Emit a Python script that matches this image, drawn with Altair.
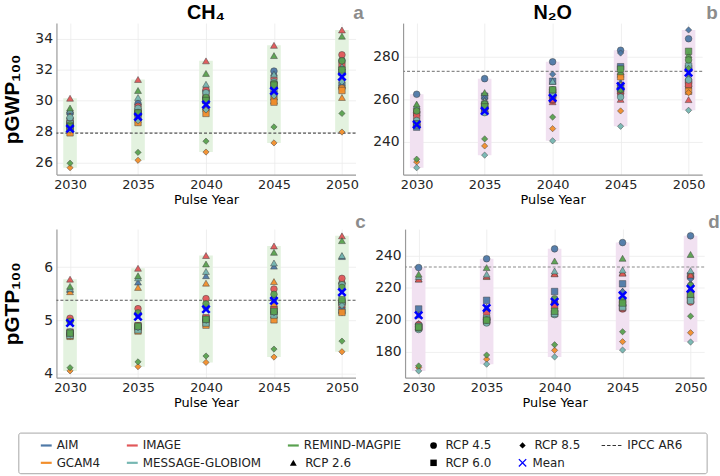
import altair as alt
import pandas as pd

YEARS = [2030, 2035, 2040, 2045, 2050]
MODELS = ["AIM", "GCAM4", "IMAGE", "MESSAGE-GLOBIOM", "REMIND-MAGPIE"]
MODEL_COLORS = ["#4e79a7", "#f28e2b", "#e15759", "#76b7b2", "#59a14f"]
RCPS = ["RCP 2.6", "RCP 4.5", "RCP 6.0", "RCP 8.5"]
RCP_SHAPES = ["triangle-up", "circle", "square", "diamond"]
RCP_SIZES = [48, 40, 44, 54]

# ---------- (a) CH4 pGWP100 ----------
CH4_GWP_AIM = {"RCP 2.6": [29.3, 29.9, 30.8, 31.8, 32.0], "RCP 4.5": [29.2, 29.8, 30.6, 31.9, 32.6],
               "RCP 6.0": [28.7, 29.3, 30.1, 30.4, 31.0], "RCP 8.5": [28.0, 28.6, 29.3, 30.07, 30.96]}
CH4_GWP_GCAM4 = {"RCP 2.6": [29.02, 29.3, 29.6, 30.0, 30.2], "RCP 4.5": [28.2, 28.8, 29.45, 30.1, 30.8],
                 "RCP 6.0": [27.92, 28.58, 29.17, 29.9, 30.65], "RCP 8.5": [25.67, 26.15, 26.68, 27.27, 27.97]}
CH4_GWP_IMAGE = {"RCP 2.6": [30.15, 31.36, 32.56, 33.56, 34.55], "RCP 4.5": [28.64, 29.63, 30.7, 31.4, 32.95],
                 "RCP 6.0": [28.4, 29.2, 30.3, 31.0, 32.3]}
CH4_GWP_MESSAGE = {"RCP 2.6": [29.39, 30.2, 31.05, 31.7, 32.2], "RCP 4.5": [28.9, 29.5, 30.5, 31.2, 32.0],
                   "RCP 6.0": [28.5, 29.1, 30.0, 30.8, 31.8], "RCP 8.5": [28.1, 28.7, 29.4, 30.3, 31.2]}
CH4_GWP_REMIND = {"RCP 2.6": [29.52, 30.65, 31.75, 32.9, 34.15], "RCP 4.5": [28.43, 29.23, 30.2, 31.1, 32.56],
                  "RCP 6.0": [28.3, 29.2, 30.0, 31.0, 31.97], "RCP 8.5": [25.96, 26.66, 27.38, 28.3, 29.17]}
CH4_GWP_MEAN = [28.19, 28.95, 29.74, 30.62, 31.53]

# ---------- (b) N2O pGWP100 ----------
N2O_GWP_AIM = {"RCP 2.6": [253.5, 256.5, 262.0, 268.0, 270.5], "RCP 4.5": [262.3, 269.6, 277.5, 282.9, 288.3],
               "RCP 6.0": [246.9, 261.4, 268.4, 275.2, 274.4], "RCP 8.5": [252.6, 260.4, 271.7, 281.6, 292.4]}
N2O_GWP_GCAM4 = {"RCP 2.6": [256.4, 255.5, 263.3, 271.7, 268.5], "RCP 4.5": [254.0, 254.0, 262.0, 266.5, 266.0],
                 "RCP 6.0": [248.5, 257.0, 264.0, 270.5, 263.7], "RCP 8.5": [230.6, 238.1, 246.2, 254.5, 263.0]}
N2O_GWP_IMAGE = {"RCP 2.6": [255.3, 259.3, 258.8, 259.9, 259.8], "RCP 4.5": [253.7, 256.4, 259.5, 262.5, 268.0],
                 "RCP 6.0": [252.0, 255.0, 260.0, 264.0, 267.0]}
N2O_GWP_MESSAGE = {"RCP 2.6": [257.0, 259.3, 268.4, 266.8, 270.1], "RCP 4.5": [250.0, 253.7, 261.5, 261.0, 269.0],
                   "RCP 6.0": [248.0, 257.7, 262.5, 265.0, 275.5], "RCP 8.5": [227.9, 233.8, 240.5, 247.3, 254.8]}
N2O_GWP_REMIND = {"RCP 2.6": [257.7, 263.1, 264.4, 272.8, 280.8], "RCP 4.5": [254.5, 257.7, 264.4, 264.4, 278.4],
                  "RCP 6.0": [248.5, 256.4, 264.4, 274.1, 282.4], "RCP 8.5": [231.9, 241.4, 251.6, 264.4, 274.4]}
N2O_GWP_MEAN = [248.1, 254.5, 260.6, 266.1, 272.4]

# ---------- (c) CH4 pGTP100 ----------
CH4_GTP_AIM = {"RCP 2.6": [5.58, 5.72, 5.84, 6.02, 6.2], "RCP 4.5": [5.0, 5.12, 5.25, 5.4, 5.7],
               "RCP 6.0": [4.76, 4.87, 5.03, 5.17, 5.18], "RCP 8.5": [4.7, 4.84, 5.0, 5.05, 5.15]}
CH4_GTP_GCAM4 = {"RCP 2.6": [5.54, 5.62, 5.70, 5.73, 5.75], "RCP 4.5": [4.74, 4.9, 5.0, 5.26, 5.32],
                 "RCP 6.0": [4.7, 4.8, 4.91, 5.01, 5.15], "RCP 8.5": [4.05, 4.13, 4.21, 4.31, 4.41]}
CH4_GTP_IMAGE = {"RCP 2.6": [5.775, 5.98, 6.22, 6.4, 6.59], "RCP 4.5": [5.04, 5.22, 5.41, 5.59, 5.79],
                 "RCP 6.0": [4.78, 4.9, 5.05, 5.2, 5.3]}
CH4_GTP_MESSAGE = {"RCP 2.6": [5.6, 5.8, 5.92, 6.08, 6.22], "RCP 4.5": [4.78, 4.88, 5.02, 5.15, 5.67],
                   "RCP 6.0": [4.72, 4.82, 4.95, 5.1, 5.35], "RCP 8.5": [4.74, 4.86, 5.0, 5.14, 5.28]}
CH4_GTP_REMIND = {"RCP 2.6": [5.64, 5.84, 6.06, 6.28, 6.5], "RCP 4.5": [4.98, 5.14, 5.31, 5.49, 5.62],
                  "RCP 6.0": [4.76, 4.89, 5.02, 5.17, 5.39], "RCP 8.5": [4.11, 4.22, 4.33, 4.46, 4.61]}
CH4_GTP_MEAN = [4.95, 5.07, 5.21, 5.37, 5.53]

# ---------- (d) N2O pGTP100 ----------
N2O_GTP_AIM = {"RCP 2.6": [203.0, 208.0, 213.0, 218.0, 223.0], "RCP 4.5": [232.6, 238.1, 244.3, 248.2, 252.4],
               "RCP 6.0": [206.8, 212.2, 217.7, 222.5, 227.5], "RCP 8.5": [197.7, 204.7, 210.5, 217.7, 225.4]}
N2O_GTP_GCAM4 = {"RCP 2.6": [225.5, 227.0, 229.0, 229.5, 229.0], "RCP 4.5": [196.0, 200.5, 205.5, 211.1, 217.3],
                 "RCP 6.0": [195.5, 199.0, 204.0, 210.0, 215.5], "RCP 8.5": [170.3, 175.5, 181.0, 186.4, 192.0]}
N2O_GTP_IMAGE = {"RCP 2.6": [225.4, 227.4, 228.7, 229.1, 228.0], "RCP 4.5": [197.0, 204.0, 210.1, 206.8, 211.1],
                 "RCP 6.0": [195.0, 200.0, 209.0, 207.5, 212.5]}
N2O_GTP_MESSAGE = {"RCP 2.6": [227.0, 228.5, 230.5, 231.1, 230.7], "RCP 4.5": [194.0, 198.1, 203.3, 209.1, 213.6],
                   "RCP 6.0": [196.0, 201.0, 204.0, 208.0, 212.0], "RCP 8.5": [168.2, 172.4, 176.9, 181.2, 186.2]}
N2O_GTP_REMIND = {"RCP 2.6": [228.5, 232.6, 236.7, 238.4, 240.8], "RCP 4.5": [195.0, 200.0, 213.2, 212.6, 221.4],
                  "RCP 6.0": [195.5, 199.8, 205.4, 210.5, 216.0], "RCP 8.5": [171.3, 178.1, 184.5, 192.6, 202.3]}
N2O_GTP_MEAN = [202.9, 207.4, 211.3, 215.3, 219.4]

IPCC_AR6 = {"CH4_GWP": 27.9, "N2O_GWP": 273.0, "CH4_GTP": 5.38, "N2O_GTP": 233.0}

YTICKS_A = [26, 28, 30, 32, 34]
YTICKS_B = [240, 260, 280]
YTICKS_C = [4, 5, 6]
YTICKS_D = [180, 200, 220, 240]

# ---------- styling ----------
PANEL_W = 302
XPATH = "M-1,-1L1,1M-1,1L1,-1"
GREEN_BAND = "#e3f2df"
PURPLE_BAND = "#f1e1f1"

model_scale = alt.Scale(domain=MODELS, range=MODEL_COLORS)
shape_scale = alt.Scale(domain=RCPS, range=RCP_SHAPES)
size_scale = alt.Scale(domain=RCPS, range=RCP_SIZES)


def to_frame(by_model):
    rows = []
    for model, d in by_model.items():
        for rcp, vals in d.items():
            for yr, v in zip(YEARS, vals):
                rows.append({"year": yr, "model": model, "rcp": rcp, "value": v})
    return pd.DataFrame(rows)


def panel(by_model, means, ipcc, band_color, line_color, ytitle, yticks,
          letter, letter_dx, letter_dy, height, header=None):
    df = to_frame(by_model)
    vmin, vmax = df["value"].min(), df["value"].max()
    pad = 0.05 * (vmax - vmin)
    ysc = alt.Scale(domain=[vmin - pad, vmax + pad], nice=False, zero=False)
    xsc = alt.Scale(domain=[2029, 2051], nice=False, zero=False)
    xax = alt.Axis(values=YEARS, format="d", title="Pulse Year", labelOverlap=False)
    if ytitle:
        yax = alt.Axis(values=yticks, format="d", title=ytitle, minExtent=30, labelOverlap=False)
    else:
        yax = alt.Axis(values=yticks, format="d", title=None, labelOverlap=False)

    band = (
        alt.Chart(df)
        .transform_aggregate(lo="min(value)", hi="max(value)", groupby=["year"])
        .transform_calculate(x0="datum.year - 0.5", x1="datum.year + 0.5")
        .mark_rect(color=band_color)
        .encode(
            x=alt.X("x0:Q", scale=xsc, axis=xax),
            x2="x1:Q",
            y=alt.Y("lo:Q", scale=ysc, axis=yax),
            y2="hi:Q",
        )
    )
    rule = (
        alt.Chart(pd.DataFrame({"ipcc": [ipcc]}))
        .mark_rule(color=line_color, strokeDash=[3, 2], strokeWidth=1.1)
        .encode(y=alt.Y("ipcc:Q", scale=ysc, axis=yax))
    )
    pts = (
        alt.Chart(df)
        .mark_point(filled=True, stroke="#3a3a3a", strokeWidth=0.5, opacity=0.95)
        .encode(
            x=alt.X("year:Q", scale=xsc, axis=xax),
            y=alt.Y("value:Q", scale=ysc, axis=yax),
            color=alt.Color("model:N", scale=model_scale, legend=None),
            shape=alt.Shape("rcp:N", scale=shape_scale, legend=None),
            size=alt.Size("rcp:N", scale=size_scale, legend=None),
        )
    )
    mean = (
        alt.Chart(pd.DataFrame({"year": YEARS, "mean": means}))
        .mark_point(shape=XPATH, filled=False, stroke="#0000ff", strokeWidth=2.6, size=55, opacity=1)
        .encode(x=alt.X("year:Q", scale=xsc, axis=xax), y=alt.Y("mean:Q", scale=ysc, axis=yax))
    )
    layers = [band, rule, pts, mean]
    lab = (
        alt.Chart(pd.DataFrame({"t": [letter]}))
        .mark_text(font="Liberation Sans", fontWeight="bold", fontSize=19, color="#8c8c8c",
                   align="center", baseline="middle")
        .encode(x=alt.value(PANEL_W + letter_dx), y=alt.value(letter_dy), text="t:N")
    )
    layers.append(lab)
    if header:
        head = (
            alt.Chart(pd.DataFrame({"t": [header]}))
            .mark_text(font="Liberation Sans", fontWeight="bold", fontSize=20, color="black",
                       align="center", baseline="middle")
            .encode(x=alt.value(PANEL_W / 2), y=alt.value(-10), text="t:N")
        )
        layers.append(head)
    return alt.layer(*layers).properties(width=PANEL_W, height=height)


pa = panel({"AIM": CH4_GWP_AIM, "GCAM4": CH4_GWP_GCAM4, "IMAGE": CH4_GWP_IMAGE,
            "MESSAGE-GLOBIOM": CH4_GWP_MESSAGE, "REMIND-MAGPIE": CH4_GWP_REMIND},
           CH4_GWP_MEAN, IPCC_AR6["CH4_GWP"], GREEN_BAND, "#555555", "pGWP₁₀₀", YTICKS_A,
           "a", 3, -10, 153, header="CH₄")
pb = panel({"AIM": N2O_GWP_AIM, "GCAM4": N2O_GWP_GCAM4, "IMAGE": N2O_GWP_IMAGE,
            "MESSAGE-GLOBIOM": N2O_GWP_MESSAGE, "REMIND-MAGPIE": N2O_GWP_REMIND},
           N2O_GWP_MEAN, IPCC_AR6["N2O_GWP"], PURPLE_BAND, "#8a8a8a", None, YTICKS_B,
           "b", 10, -10, 153, header="N₂O")
pc = panel({"AIM": CH4_GTP_AIM, "GCAM4": CH4_GTP_GCAM4, "IMAGE": CH4_GTP_IMAGE,
            "MESSAGE-GLOBIOM": CH4_GTP_MESSAGE, "REMIND-MAGPIE": CH4_GTP_REMIND},
           CH4_GTP_MEAN, IPCC_AR6["CH4_GTP"], GREEN_BAND, "#555555", "pGTP₁₀₀", YTICKS_C,
           "c", 5, -7, 150)
pd_ = panel({"AIM": N2O_GTP_AIM, "GCAM4": N2O_GTP_GCAM4, "IMAGE": N2O_GTP_IMAGE,
             "MESSAGE-GLOBIOM": N2O_GTP_MESSAGE, "REMIND-MAGPIE": N2O_GTP_REMIND},
            N2O_GTP_MEAN, IPCC_AR6["N2O_GTP"], PURPLE_BAND, "#8a8a8a", None, YTICKS_D,
            "d", 10, -7, 150)

# ---------- custom legend (positions relative to the left plot's origin) ----------
CHAR_W = {"M": .863, "E": .632, "S": .635, "A": .684, "G": .775, "-": .361, "L": .557, "O": .787,
          "B": .686, "I": .295, "R": .695, "N": .748, "D": .770, "P": .603, "C": .698, " ": .318,
          ".": .318, "e": .615, "a": .613, "n": .634}
LEG_FONT = 12


def text_w(s):
    return sum(CHAR_W.get(ch, .636) for ch in s) * LEG_FONT


leg_labels = MODELS + RCPS + ["Mean", "IPCC AR6"]
leg_kinds = ["line"] * len(MODELS) + ["marker"] * len(RCPS) + ["mean", "dash"]
n_cols = (len(leg_labels) + 1) // 2
LEG_BOX_L = -38
LEG_BOX_W = 695
LEG_TOP = 17
LEG_BOX_H = 41
col_x = [LEG_BOX_L + 27.7]
for c in range(n_cols - 1):
    w = max(text_w(leg_labels[i]) for i in range(len(leg_labels)) if i // 2 == c)
    col_x.append(col_x[-1] + w + 43)
TEXT_GAP = {"line": 10.5, "marker": 12, "mean": 10, "dash": 16}
HALF_LEN = {"line": 5.5, "marker": 0, "mean": 0, "dash": 10}
leg = pd.DataFrame({
    "label": leg_labels,
    "kind": leg_kinds,
    "row": [i % 2 for i in range(len(leg_labels))],
    "cx": [col_x[i // 2] for i in range(len(leg_labels))],
})
leg["tx"] = leg["cx"] + leg["kind"].map(TEXT_GAP)
leg["x0"] = leg["cx"] - leg["kind"].map(HALF_LEN)
leg["x1"] = leg["cx"] + leg["kind"].map(HALF_LEN)

LEG_W = 2 * PANEL_W + 44
LEG_H = LEG_TOP + LEG_BOX_H
lx = alt.Scale(domain=[0, LEG_W], range=[0, LEG_W])
ly = alt.Scale(domain=[0, 1], range=[LEG_TOP + 12.5, LEG_TOP + 30])
lbase = alt.Chart(leg)

border = (
    alt.Chart(pd.DataFrame({"b": [0]}))
    .mark_rect(fill="white", fillOpacity=0, stroke="#a6a6a6", strokeWidth=1, cornerRadius=2)
    .encode(x=alt.value(LEG_BOX_L), x2=alt.value(LEG_BOX_L + LEG_BOX_W),
            y=alt.value(LEG_TOP), y2=alt.value(LEG_H))
)
llines = lbase.transform_filter("datum.kind == 'line'").mark_rule(strokeWidth=2.2).encode(
    x=alt.X("x0:Q", scale=lx, axis=None), x2="x1:Q",
    y=alt.Y("row:Q", scale=ly, axis=None),
    color=alt.Color("label:N", scale=model_scale, legend=None))
lmarks = lbase.transform_filter("datum.kind == 'marker'").mark_point(filled=True, color="black", opacity=1).encode(
    x=alt.X("cx:Q", scale=lx, axis=None), y=alt.Y("row:Q", scale=ly, axis=None),
    shape=alt.Shape("label:N", scale=shape_scale, legend=None),
    size=alt.Size("label:N", scale=alt.Scale(domain=RCPS, range=[50, 55, 55, 70]), legend=None))
lmean = lbase.transform_filter("datum.kind == 'mean'").mark_point(
    shape=XPATH, filled=False, stroke="#0000ff", strokeWidth=1.3, size=55, opacity=1).encode(
    x=alt.X("cx:Q", scale=lx, axis=None), y=alt.Y("row:Q", scale=ly, axis=None))
ldash = lbase.transform_filter("datum.kind == 'dash'").mark_rule(
    color="#333333", strokeDash=[3.5, 2], strokeWidth=1.2).encode(
    x=alt.X("x0:Q", scale=lx, axis=None), x2="x1:Q", y=alt.Y("row:Q", scale=ly, axis=None))
ltext = lbase.mark_text(align="left", baseline="middle", font="DejaVu Sans", fontSize=LEG_FONT,
                        color="#222222").encode(
    x=alt.X("tx:Q", scale=lx, axis=None), y=alt.Y("row:Q", scale=ly, axis=None), text="label:N")

legend = alt.layer(border, llines, lmarks, lmean, ldash, ltext).properties(width=LEG_W, height=LEG_H)

top = alt.hconcat(pa, pb, spacing=8)
bottom = alt.hconcat(pc, pd_, spacing=8)
chart = (
    alt.vconcat(top, bottom, legend, spacing=7)
    .properties(padding={"left": 2, "top": 1, "right": 0, "bottom": 0})
    .configure_view(stroke=None)
    .configure_axis(labelFont="DejaVu Sans", labelColor="#262626", titleColor="#000000",
                    domainColor="#9a9a9a", domainWidth=1.2, gridColor="#ebebeb", gridWidth=0.8,
                    ticks=False, labelPadding=4)
    .configure_axisX(labelFontSize=13, titleFont="DejaVu Sans", titleFontSize=13,
                     titleFontWeight="normal", titlePadding=2)
    .configure_axisY(labelFontSize=14, titleFont="Liberation Sans", titleFontSize=21,
                     titleFontWeight="bold", titlePadding=4)
)

chart.save("out.html", embed_options={"renderer": "svg", "actions": False})
